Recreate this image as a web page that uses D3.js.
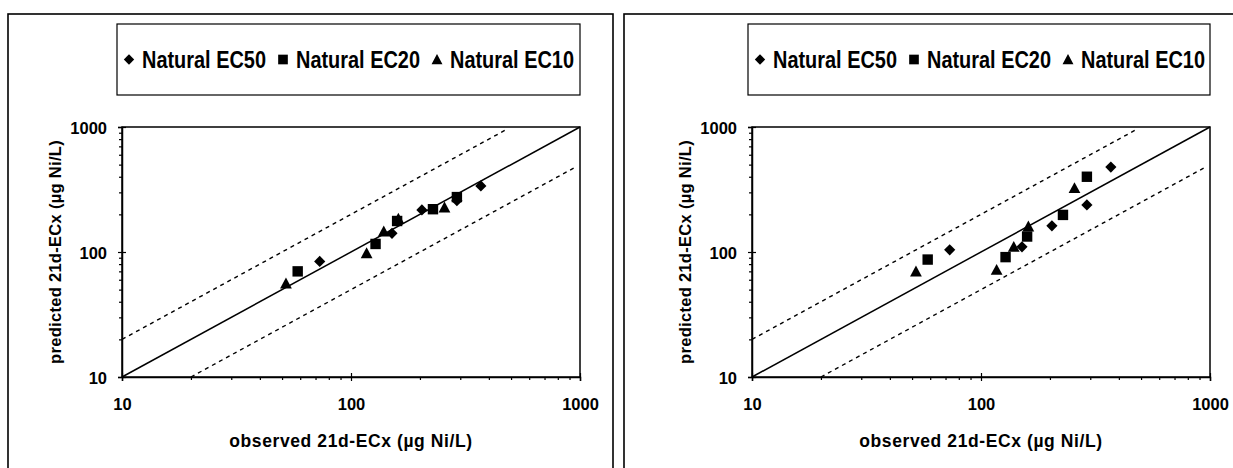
<!DOCTYPE html>
<html>
<head>
<meta charset="utf-8">
<script src="https://cdn.jsdelivr.net/npm/d3@7"></script>
<style>
  html, body { margin: 0; padding: 0; background: #fff; }
  svg { display: block; font-family: "Liberation Sans", Arial, sans-serif; font-weight: bold; }
</style>
</head>
<body>
<svg id="chart" width="1233" height="468"></svg>
<script>
// Observed toxicity values (µg Ni/L), shared by both panels
const observedEC50 = [73, 151, 204, 290, 369];
const observedEC20 = [58.5, 128, 159, 228, 290];
const observedEC10 = [52, 117, 139, 161, 256];

// Predicted values, left panel
const predictedLeftEC50 = [84, 141, 217, 257, 338];
const predictedLeftEC20 = [70, 116, 177, 220, 275];
const predictedLeftEC10 = [56, 98, 146, 185, 227];

// Predicted values, right panel
const predictedRightEC50 = [104, 110, 162, 238, 478];
const predictedRightEC20 = [87, 91, 133, 198, 400];
const predictedRightEC10 = [70, 72, 110, 160, 325];

const seriesNames = ["Natural EC50", "Natural EC20", "Natural EC10"];
const seriesShapes = ["diamond", "square", "triangle"];
const axisDomain = [10, 1000];
const majorTicks = [10, 100, 1000];
const xAxisTitle = "observed 21d-ECx (µg Ni/L)";
const yAxisTitle = "predicted 21d-ECx (µg Ni/L)";
// reference lines: 1:1 and factor-of-two bounds
const upperBoundX = [10, 480];
const lowerBoundX = [20, 950];

// legend labels are set in a condensed face
const LEGEND_SX = 0.83;

const svg = d3.select("#chart");

const panels = [
  {
    frame: {x: 8, y: 14, w: 605, h: 470},
    plot: {x0: 122, x1: 580, y0: 127, y1: 377},
    legend: {x: 117, y: 24, w: 463, h: 71},
    yTitleX: 61,
    predicted: [predictedLeftEC50, predictedLeftEC20, predictedLeftEC10]
  },
  {
    frame: {x: 624, y: 14, w: 620, h: 470},
    plot: {x0: 752, x1: 1210, y0: 127, y1: 377},
    legend: {x: 748, y: 24, w: 462, h: 71},
    yTitleX: 691,
    predicted: [predictedRightEC50, predictedRightEC20, predictedRightEC10]
  }
];
const observed = [observedEC50, observedEC20, observedEC10];

// marker paths centred on the origin
function markerPath(shape, s) {
  if (shape === "diamond") return `M0,${-s}L${s},0L0,${s}L${-s},0Z`;
  if (shape === "square") return `M${-s * 0.93},${-s * 0.93}h${s * 1.86}v${s * 1.86}h${-s * 1.86}Z`;
  return `M0,${-s * 1.05}L${s * 1.05},${s * 0.9}L${-s * 1.05},${s * 0.9}Z`;
}

// move a text's x/y into a transform so it can be condensed horizontally
function condense(sel, sx) {
  sel.each(function () {
    const t = d3.select(this);
    const x = +t.attr("x") || 0, y = +t.attr("y") || 0;
    t.attr("x", 0).attr("y", 0)
      .attr("transform", `translate(${x},${y}) scale(${sx},1)`);
  });
}

function allTicks() {
  const t = [];
  for (let d = 10; d <= 100; d *= 10)
    for (let k = 1; k <= 10; k++) t.push(d * k);
  return Array.from(new Set(t));
}
const minorTicks = allTicks().filter(v => !majorTicks.includes(v));

panels.forEach(p => {
  const g = svg.append("g");
  const x = d3.scaleLog().domain(axisDomain).range([p.plot.x0, p.plot.x1]);
  const y = d3.scaleLog().domain(axisDomain).range([p.plot.y1, p.plot.y0]);

  // outer chart border
  g.append("rect")
    .attr("x", p.frame.x).attr("y", p.frame.y)
    .attr("width", p.frame.w).attr("height", p.frame.h)
    .attr("fill", "none").attr("stroke", "#000").attr("stroke-width", 1.6);

  // legend
  const lg = g.append("g");
  lg.append("rect")
    .attr("x", p.legend.x).attr("y", p.legend.y)
    .attr("width", p.legend.w).attr("height", p.legend.h)
    .attr("fill", "#fff").attr("stroke", "#000").attr("stroke-width", 1.2);
  const ly = p.legend.y + p.legend.h / 2;
  seriesNames.forEach((name, i) => {
    const ix = p.legend.x + 12 + i * 154;
    lg.append("path")
      .attr("d", markerPath(seriesShapes[i], 5.2))
      .attr("transform", `translate(${ix},${ly})`)
      .attr("fill", "#000");
    lg.append("text")
      .attr("x", ix + 13).attr("y", ly + 8.5)
      .attr("font-size", 24)
      .text(name)
      .call(condense, LEGEND_SX);
  });

  // plot-area frame
  g.append("rect")
    .attr("x", p.plot.x0).attr("y", p.plot.y0)
    .attr("width", p.plot.x1 - p.plot.x0).attr("height", p.plot.y1 - p.plot.y0)
    .attr("fill", "none").attr("stroke", "#000").attr("stroke-width", 1.5);

  // minor ticks (outside)
  g.append("g").attr("transform", `translate(0,${p.plot.y1})`)
    .call(d3.axisBottom(x).tickValues(minorTicks).tickSize(3).tickFormat(""))
    .call(a => a.select(".domain").remove());
  g.append("g").attr("transform", `translate(${p.plot.x0},0)`)
    .call(d3.axisLeft(y).tickValues(minorTicks).tickSize(3).tickFormat(""))
    .call(a => a.select(".domain").remove());

  // major ticks (crossing) with labels
  const xa = g.append("g").attr("transform", `translate(0,${p.plot.y1})`)
    .call(d3.axisBottom(x).tickValues(majorTicks).tickSize(4).tickPadding(0).tickFormat(d3.format("d")));
  xa.selectAll(".tick line").attr("y1", -4);
  xa.selectAll("text").attr("font-size", 16.5).attr("font-family", null).attr("fill", "#000")
    .attr("dy", null).attr("y", 33);
  const ya = g.append("g").attr("transform", `translate(${p.plot.x0},0)`)
    .call(d3.axisLeft(y).tickValues(majorTicks).tickSize(4).tickPadding(11).tickFormat(d3.format("d")));
  ya.selectAll(".tick line").attr("x1", 4);
  ya.selectAll("text").attr("font-size", 16.5).attr("font-family", null).attr("fill", "#000")
    .attr("dy", null).attr("y", 6);
  g.selectAll(".domain").attr("stroke-width", 1.5);
  g.selectAll(".tick line").attr("stroke-width", 1.2);

  // 1:1 line
  const line = d3.line().x(d => x(d[0])).y(d => y(d[1]));
  g.append("path")
    .attr("d", line(axisDomain.map(v => [v, v])))
    .attr("fill", "none").attr("stroke", "#000").attr("stroke-width", 1.5);
  // factor-of-two lines
  g.append("path")
    .attr("d", line(upperBoundX.map(v => [v, v * 2])))
    .attr("fill", "none").attr("stroke", "#000").attr("stroke-width", 1.4)
    .attr("stroke-dasharray", "4,4");
  g.append("path")
    .attr("d", line(lowerBoundX.map(v => [v, v / 2])))
    .attr("fill", "none").attr("stroke", "#000").attr("stroke-width", 1.4)
    .attr("stroke-dasharray", "4,4");

  // data markers
  observed.forEach((obs, si) => {
    g.append("g").selectAll("path")
      .data(obs.map((o, i) => [o, p.predicted[si][i]]))
      .join("path")
      .attr("d", markerPath(seriesShapes[si], 5.6))
      .attr("transform", d => `translate(${x(d[0])},${y(d[1])})`)
      .attr("fill", "#000");
  });

  // axis titles
  g.append("text")
    .attr("x", (p.plot.x0 + p.plot.x1) / 2).attr("y", 447)
    .attr("text-anchor", "middle").attr("font-size", 17.5).attr("letter-spacing", 0.6)
    .text(xAxisTitle);
  g.append("text")
    .attr("transform", `translate(${p.yTitleX},${(p.plot.y0 + p.plot.y1) / 2}) rotate(-90)`)
    .attr("text-anchor", "middle")
    .attr("font-size", 16.5).attr("letter-spacing", 0.3)
    .text(yAxisTitle);
});
</script>
</body>
</html>
